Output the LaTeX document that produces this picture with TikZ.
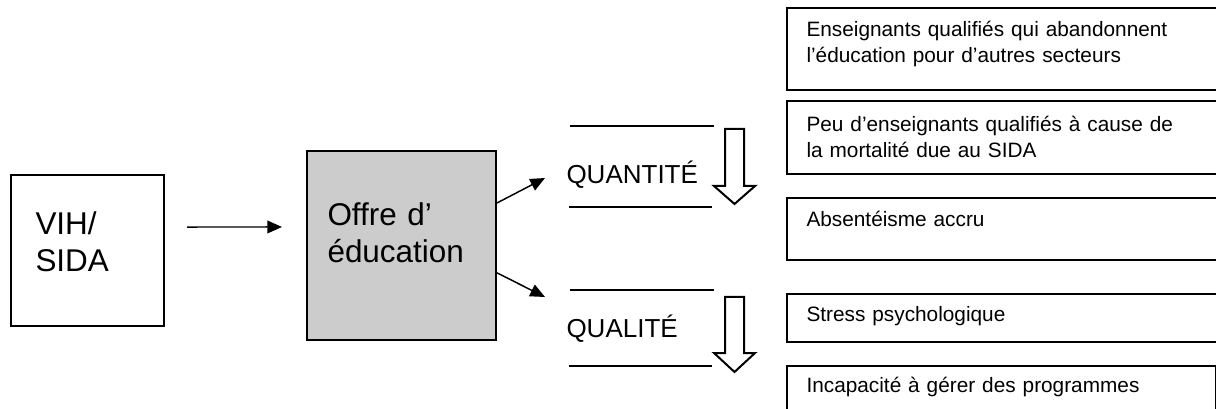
\documentclass[tikz,border=0pt]{standalone}
\usepackage{fontspec}
\setmainfont{Liberation Sans}
\usetikzlibrary{arrows.meta}
\definecolor{offregrey}{RGB}{204,204,204}
\tikzset{every picture/.style={line width=0.75pt}}
\tikzset{
  box/.style={draw, line width=1.5pt, anchor=north west, inner sep=0pt},
  bigtxt/.style={anchor=base west, inner sep=0pt, align=left, text width=150pt,
    font=\fontsize{23.6}{27.75}\selectfont},
  midtxt/.style={anchor=base west, inner sep=0pt, font=\fontsize{19.5}{23}\selectfont},
  smalltxt/.style={anchor=base west, inner sep=0pt, align=left, text width=320pt,
    font=\fontsize{15.6}{19.5}\selectfont},
  flow/.style={-{Triangle[length=11pt,width=9.5pt]}, line width=1.1pt},
  bar/.style={line width=2.2pt},
  downarrow/.style={draw, line width=1.5pt, line join=miter}
}

\begin{document}
\begin{tikzpicture}[x=0.75pt,y=0.75pt,yscale=-1,xscale=1]
\useasboundingbox (0,0) rectangle (1216,409);
\clip (0,0) rectangle (1216,409);

%Shape: Rectangle VIH
\node[box, minimum width=153*0.75pt, minimum height=151*0.75pt] (vih) at (10,174) {};
%Shape: Rectangle offre
\node[box, fill=offregrey, minimum width=189*0.75pt, minimum height=189*0.75pt] (offre) at (306,150) {};

%Shape: Rectangles effets
\node[box, minimum width=440*0.75pt, minimum height=82*0.75pt] (eff1) at (786,7) {};
\node[box, minimum width=440*0.75pt, minimum height=73*0.75pt] (eff2) at (786,100) {};
\node[box, minimum width=440*0.75pt, minimum height=62*0.75pt] (eff3) at (786,197) {};
\node[box, minimum width=440*0.75pt, minimum height=48*0.75pt] (eff4) at (786,293) {};
\node[box, minimum width=429*0.75pt, minimum height=60*0.75pt] (eff5) at (786,365) {};

% Text Node
\node[bigtxt] (vihtxt) at (35,235) {VIH/\\SIDA};
% Text Node
\node[bigtxt] (offretxt) at (327,226) {Offre d’\\éducation};
% Text Node
\node[midtxt] (quant) at (566,184) {QUANTITÉ};
% Text Node
\node[midtxt] (qual) at (566,337) {QUALITÉ};
% Text Node
\node[smalltxt] (efftxt1) at (806,37) {Enseignants qualifiés qui abandonnent\\l’éducation pour d’autres secteurs};
% Text Node
\node[smalltxt] (efftxt2) at (806,132) {Peu d’enseignants qualifiés à cause de\\la mortalité due au SIDA};
% Text Node
\node[smalltxt] (efftxt3) at (806,227) {Absentéisme accru};
% Text Node
\node[smalltxt] (efftxt4) at (806,322) {Stress psychologique};
% Text Node
\node[smalltxt] (efftxt5) at (806,392) {Incapacité à gérer des programmes};

%Straight Lines
\coordinate (qnt) at (545,178);
\coordinate (qlt) at (545,297);
\draw[flow, shorten <=16.5pt, shorten >=18pt] ([yshift=-17.6pt]vih.east) -- ([yshift=-13.9pt]offre.west);
\draw[flow] (offre.24) -- (qnt);
\draw[flow] (offre.-16.5) -- (qlt);

%Straight Lines
\draw[bar] (570,126) -- (714,126);
\draw[bar] (569,207) -- (712,207);
\draw[bar] (570,290) -- (714,290);
\draw[bar] (569,366) -- (712,366);

%Shape: Down Arrow
\draw[downarrow] (725,129) -- (744,129) -- (744,186) -- (755,186) -- (734.5,204) -- (714,186) -- (725,186) -- cycle;
%Shape: Down Arrow
\draw[downarrow] (725,297) -- (744,297) -- (744,353) -- (755,353) -- (734.5,372) -- (714,353) -- (725,353) -- cycle;

\end{tikzpicture}
\end{document}
